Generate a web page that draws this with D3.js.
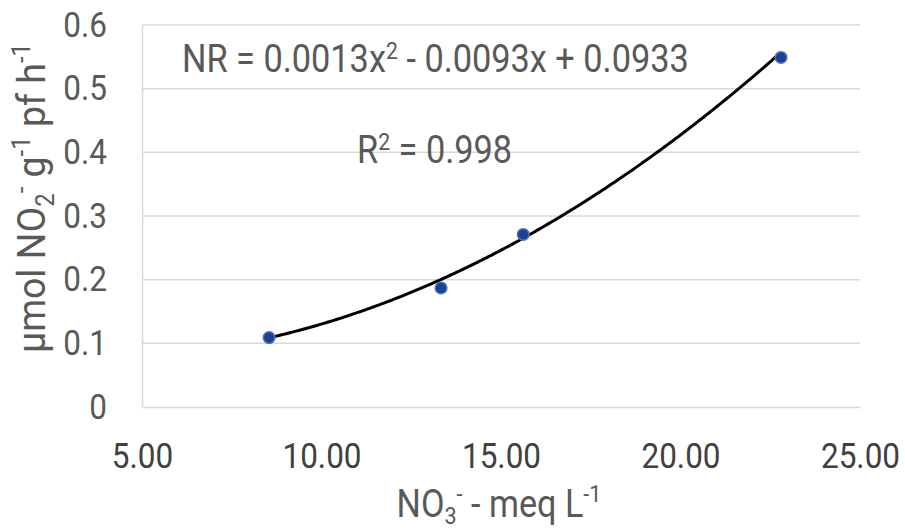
<!DOCTYPE html>
<html>
<head>
<meta charset="utf-8">
<script src="https://cdn.jsdelivr.net/npm/d3@7"></script>
<style>
  html, body { margin: 0; padding: 0; background: #fff; }
  svg { display: block; font-family: Roboto, "Noto Sans", sans-serif; }
</style>
</head>
<body>
<svg id="chart" width="905" height="531"></svg>
<script>
// Data
const nitrate = [8.54, 13.33, 15.62, 22.80];          // NO3- (meq L-1)
const nitriteRate = [0.109, 0.187, 0.271, 0.549];     // µmol NO2- g-1 pf h-1
const xTicks = [5, 10, 15, 20, 25];
const yTicks = [0, 0.1, 0.2, 0.3, 0.4, 0.5, 0.6];
// Polynomial trendline coefficients as printed on the chart (a x^2 + b x + c)
const trendCoef = [0.0013, -0.0093, 0.0933];
const equationText = ["NR = 0.0013x", "2", " - 0.0093x + 0.0933"];
const r2Text = ["R", "2", " = 0.998"];

const svg = d3.select("#chart");
const W = 905, H = 531;
const m = { left: 142, right: 45, top: 25, bottom: 124 };
const SX = 0.9;   // horizontal condensing of the Excel-like font

const x = d3.scaleLinear().domain([5, 25]).range([m.left, W - m.right]);
const y = d3.scaleLinear().domain([0, 0.6]).range([H - m.bottom, m.top]);

const grid = "#d9d9d9", textCol = "#595959";

// Gridlines
svg.append("g")
  .selectAll("line")
  .data(yTicks.filter(d => d > 0))
  .join("line")
  .attr("x1", x(5)).attr("x2", x(25))
  .attr("y1", d => y(d)).attr("y2", d => y(d))
  .attr("stroke", grid).attr("stroke-width", 1.5);

// Axes
const yAxis = d3.axisLeft(y).tickValues(yTicks).tickSize(0).tickPadding(0)
  .tickFormat(d => d === 0 ? "0" : d3.format(".1f")(d));
const gy = svg.append("g").attr("transform", `translate(${x(5)},0)`).call(yAxis);
gy.select(".domain").attr("stroke", grid).attr("stroke-width", 1.5);
gy.selectAll("text")
  .attr("x", 0)
  .attr("transform", `translate(-35,0) scale(${SX},1)`)
  .attr("fill", textCol).attr("font-size", 35).attr("font-family", "Roboto");

const xAxis = d3.axisBottom(x).tickValues(xTicks).tickSize(0).tickPadding(36)
  .tickFormat(d3.format(".2f"));
const gx = svg.append("g").attr("transform", `translate(0,${y(0)})`).call(xAxis);
gx.select(".domain").attr("stroke", grid).attr("stroke-width", 1.5);
gx.selectAll("text")
  .attr("transform", `scale(${SX},1)`)
  .attr("fill", "#404040").attr("font-size", 35).attr("font-family", "Roboto");

// Trendline
const [a, b, c] = trendCoef;
const xs = d3.range(d3.min(nitrate), d3.max(nitrate) + 0.001, 0.05);
const line = d3.line().x(d => x(d)).y(d => y(a * d * d + b * d + c));
svg.append("path").datum(xs).attr("d", line)
  .attr("fill", "none").attr("stroke", "#000").attr("stroke-width", 3)
  .attr("stroke-linejoin", "round");

// Points
svg.append("g").selectAll("circle")
  .data(nitrate.map((v, i) => [v, nitriteRate[i]]))
  .join("circle")
  .attr("cx", d => x(d[0])).attr("cy", d => y(d[1]))
  .attr("r", 5.8)
  .attr("fill", "#1f3f8f").attr("stroke", "#4a73c4").attr("stroke-width", 1.5);

// Equation labels
function supText(parts, px, py, size, sx) {
  const t = svg.append("text")
    .attr("transform", `translate(${px},${py}) scale(${sx},1)`)
    .attr("fill", textCol).attr("font-size", size);
  t.append("tspan").text(parts[0]);
  t.append("tspan").text(parts[1]).attr("font-size", size * 0.62).attr("dy", -size * 0.33);
  t.append("tspan").text(parts[2]).attr("dy", size * 0.33);
  return t;
}
supText(equationText, 182, 72, 39, 0.88);
supText(r2Text, 357, 163, 39, 0.88);

// X axis title
const xt = svg.append("text")
  .attr("transform", `translate(${x(15) - 2},517) scale(${SX},1)`)
  .attr("text-anchor", "middle").attr("fill", textCol).attr("font-size", 38);
xt.append("tspan").text("NO");
xt.append("tspan").text("3").attr("font-size", 24).attr("dy", 7);
xt.append("tspan").text("-").attr("font-size", 24).attr("dy", -22);
xt.append("tspan").text(" - meq L").attr("dy", 15);
xt.append("tspan").text("-1").attr("font-size", 24).attr("dy", -15);

// Y axis title
const yt = svg.append("text")
  .attr("transform", `translate(45,198) rotate(-90) scale(0.96,1)`)
  .attr("text-anchor", "middle").attr("fill", textCol).attr("font-size", 39);
yt.append("tspan").text("µmol NO");
yt.append("tspan").text("2").attr("font-size", 25).attr("dy", 9);
yt.append("tspan").text("-").attr("font-size", 25).attr("dy", -24);
yt.append("tspan").text(" g").attr("dy", 15);
yt.append("tspan").text("-1").attr("font-size", 25).attr("dy", -15);
yt.append("tspan").text(" pf h").attr("dy", 15);
yt.append("tspan").text("-1").attr("font-size", 25).attr("dy", -15);
</script>
</body>
</html>
